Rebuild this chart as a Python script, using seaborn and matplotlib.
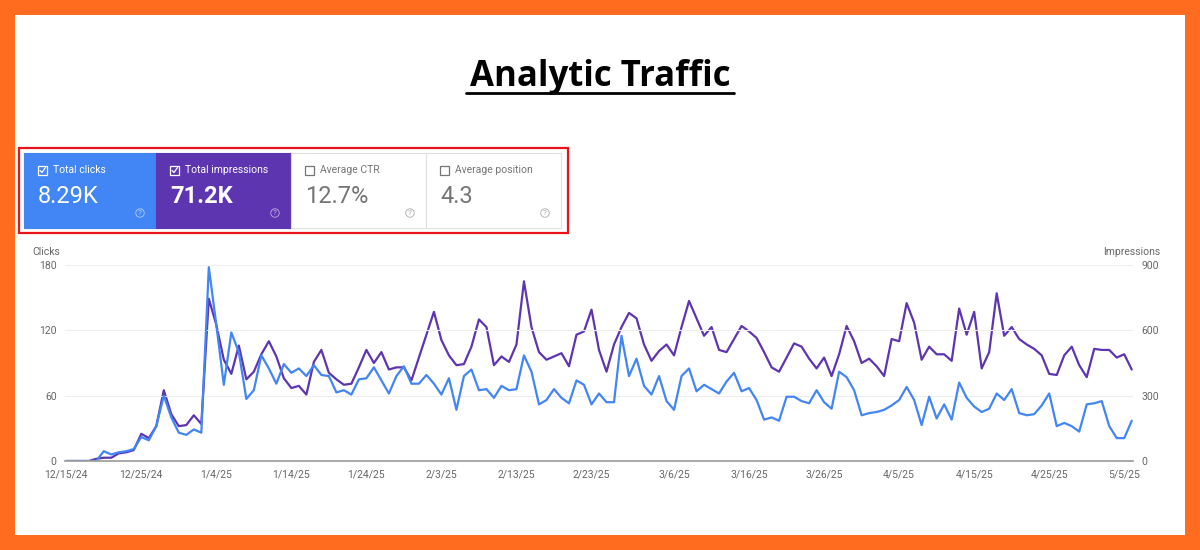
import matplotlib
matplotlib.use("Agg")
import matplotlib.pyplot as plt
import matplotlib.patches as mpatches
import matplotlib.lines as mlines
import seaborn as sns
import pandas as pd
import numpy as np

clicks = [0,0,0,0,0,9,6,8,9,11,22,19,32,60,40,26,24,29,26,178,125,70,118,100,57,65,97,85,71,89,
          81,85,78,88,79,78,63,65,61,75,76,86,74,62,78,
          87,71,71,79,71,61,76,47,78,84,65,66,58,69,65,66,97,82,52,56,66,58,53,74,70,52,62,54,54,115,
          78,94,69,61,78,55,47,78,85,64,70,66,
          62,73,81,64,67,56,38,40,
          37,59,59,55,53,65,54,48,82,77,65,42,44,45,47,51,56,68,56,33,59,39,52,38,72,58,50,45,48,62,
          56,66,44,42,43,51,62,32,35,32,27,52,53,55,32,21,21,37]
impr_scaled = [0,0,0,0,2,3,3,7,8,10,25,21,32,65,43,32,33,42,34,149,125,93,80,106,75,82,98,110,96,76,
               67,69,61,91,102,81,75,70,71,86,102,90,100,84,86,
               86,74,95,116,137,111,97,88,89,105,130,123,88,96,91,107,165,123,100,93,96,99,87,116,119,139,
               102,82,107,123,136,131,107,92,101,107,97,123,147,131,115,123,
               102,100,112,124,119,113,100,86,
               82,95,108,105,94,85,95,78,98,124,110,90,94,87,78,112,110,145,127,93,105,98,98,92,140,116,
               137,85,100,154,115,123,112,107,103,97,80,79,97,105,88,77,103,102,102,95,98,84]
impressions = [v * 5 for v in impr_scaled]
dates = pd.date_range("2024-12-15", periods=len(clicks), freq="D")

tick_dates = ["2024-12-15","2024-12-25","2025-01-04","2025-01-14","2025-01-24","2025-02-03",
              "2025-02-13","2025-02-23","2025-03-06","2025-03-16","2025-03-26","2025-04-05",
              "2025-04-15","2025-04-25","2025-05-05"]
tick_labels = ["12/15/24","12/25/24","1/4/25","1/14/25","1/24/25","2/3/25","2/13/25","2/23/25",
               "3/6/25","3/16/25","3/26/25","4/5/25","4/15/25","4/25/25","5/5/25"]

kpi_titles = ["Total clicks", "Total impressions", "Average CTR", "Average position"]
kpi_values = ["8.29K", "71.2K", "12.7%", "4.3"]

df = pd.DataFrame({"date": dates, "clicks": clicks, "impressions": impressions})

sns.set_theme(style="white")
plt.rcParams["font.family"] = ["Roboto", "DejaVu Sans"]

W, H = 1200, 550
fig = plt.figure(figsize=(12, 5.5), dpi=100)
fig.patch.set_facecolor("#FF6B1F")

def fx(x): return x / W
def fy(y): return 1 - y / H

fig.add_artist(mpatches.Rectangle((fx(15), fy(535)), fx(1170), 520 / H, transform=fig.transFigure,
                                  facecolor="white", edgecolor="none", zorder=0))

# Title
fig.text(fx(600), fy(77), "Analytic Traffic", ha="center", va="center", fontsize=25,
         fontweight="bold", family=["Open Sans", "DejaVu Sans"], color="black")
fig.add_artist(mlines.Line2D([fx(466), fx(734)], [fy(93), fy(93)], color="black", lw=2,
                             transform=fig.transFigure))

# KPI cards
fig.add_artist(mpatches.Rectangle((fx(19), fy(233)), fx(549), 85 / H, transform=fig.transFigure,
                                  facecolor="none", edgecolor="#E8141B", lw=1.6, zorder=3))
cards = [(24, 156, "#4285F4", "white"), (156, 291, "#5E35B1", "white"),
         (291, 426, "white", "#757575"), (426, 561, "white", "#757575")]
for i, (x0, x1, fc, tc) in enumerate(cards):
    fig.add_artist(mpatches.Rectangle((fx(x0), fy(228)), fx(x1 - x0), 75 / H, transform=fig.transFigure,
                                      facecolor=fc, edgecolor="#E0E0E0" if fc == "white" else fc, lw=0.8, zorder=2))
    # checkbox
    fig.add_artist(mpatches.Rectangle((fx(x0 + 14), fy(175)), fx(9), 9 / H, transform=fig.transFigure,
                                      facecolor="none", edgecolor=tc, lw=0.9, zorder=4))
    if fc != "white":
        fig.add_artist(mlines.Line2D([fx(x0 + 16), fx(x0 + 18), fx(x0 + 21.5)], [fy(170.5), fy(172.5), fy(167.5)],
                                     color=tc, lw=0.9, transform=fig.transFigure, zorder=5))
    fig.text(fx(x0 + 29), fy(170), kpi_titles[i], ha="left", va="center", fontsize=7.5, color=tc, zorder=5)
    fig.text(fx(x0 + 14), fy(196), kpi_values[i], ha="left", va="center", fontsize=17,
             fontweight="bold" if i == 1 else "normal", color=tc, zorder=5)
    fig.text(fx(x1 - 16), fy(213), "?", ha="center", va="center", fontsize=6, color=tc, alpha=0.6, zorder=5,
             bbox=dict(boxstyle="circle,pad=0.15", fc="none", ec=tc, lw=0.6, alpha=0.6))

# Chart
ax = fig.add_axes([fx(65), fy(461), fx(1068), 196 / H])
ax2 = ax.twinx()
sns.lineplot(data=df, x="date", y="impressions", ax=ax2, color="#5E35B1", lw=1.6)
sns.lineplot(data=df, x="date", y="clicks", ax=ax, color="#4285F4", lw=1.6)
ax.set_zorder(ax2.get_zorder() + 1)
ax.patch.set_visible(False)

ax.set_ylim(0, 180)
ax2.set_ylim(0, 900)
ax.set_yticks([0, 60, 120, 180])
ax2.set_yticks([0, 300, 600, 900])
ax.set_xlim(dates[0] - pd.Timedelta(hours=4), dates[-1] + pd.Timedelta(hours=4))
ax.set_xticks(pd.to_datetime(tick_dates))
ax.set_xticklabels(tick_labels)
for a in (ax, ax2):
    a.set_xlabel("")
    a.set_ylabel("")
    for s in a.spines.values():
        s.set_visible(False)
    a.tick_params(axis="both", length=0, labelsize=7.5, colors="#666666", pad=6)
ax.spines["bottom"].set_visible(True)
ax.spines["bottom"].set_color("#9E9E9E")
ax2.grid(False)
ax.grid(axis="y", color="#EEEEEE", lw=0.8)
ax.grid(axis="x", visible=False)
ax.set_axisbelow(True)
fig.text(fx(32), fy(252), "Clicks", fontsize=7.5, color="#666666", va="center")
fig.text(fx(1160), fy(252), "Impressions", fontsize=7.5, color="#666666", va="center", ha="right")

fig.savefig("out.png", dpi=100, facecolor=fig.get_facecolor())
